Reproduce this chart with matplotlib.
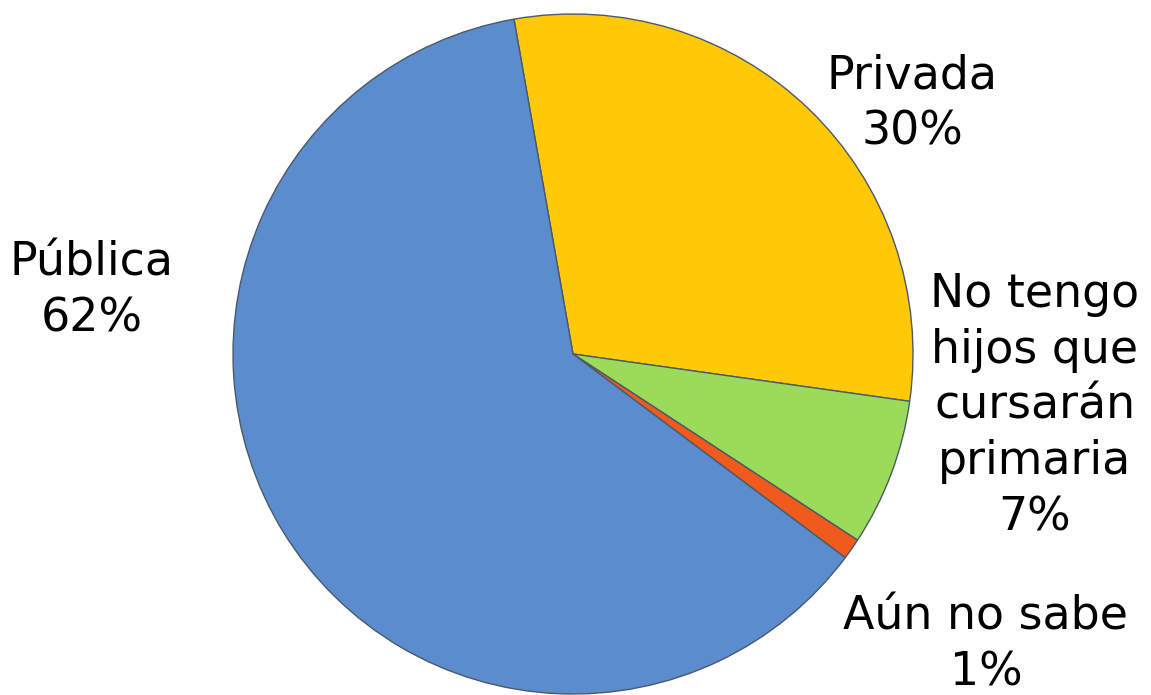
import matplotlib
matplotlib.use("Agg")
import matplotlib.pyplot as plt

categories = ["Privada", "No tengo\nhijos que\ncursarán\nprimaria", "Aún no sabe", "Pública"]
values = [30, 7, 1, 62]
colors = ["#FFC907", "#9CDB5A", "#F05A1C", "#5A8CCE"]

W, H = 1151, 695
fig = plt.figure(figsize=(W / 100, H / 100), dpi=100)
ax = fig.add_axes([0, 0, 1, 1])

cx, cy, r = 573, H - 354, 340
wedges, _ = ax.pie(values, colors=colors, startangle=100, counterclock=False,
                   center=(cx, cy), radius=r, frame=True,
                   wedgeprops=dict(edgecolor="#4a5a6a", linewidth=1.0))
ax.set_xlim(0, W)
ax.set_ylim(0, H)
ax.set_aspect("equal")
ax.axis("off")

label_pos = [(912, H - 104), (1035, H - 406), (986, H - 645), (92, H - 291)]
for cat, v, (x, y) in zip(categories, values, label_pos):
    ax.text(x, y, f"{cat}\n{v}%", ha="center", va="center", multialignment="center",
            fontsize=33, family="DejaVu Sans", color="black", linespacing=1.31)

fig.savefig("out.png", dpi=100)
